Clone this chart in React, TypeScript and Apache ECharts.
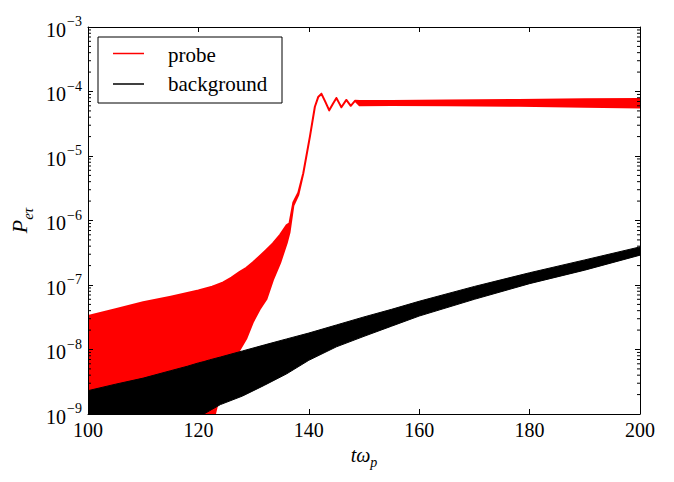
import React, { useEffect, useRef } from "react";
import * as echarts from "echarts";

// ---- axis definitions ----
const xMin = 100;
const xMax = 200;
const xInterval = 20;
const yMin = 1e-9;
const yMax = 1e-3;
const minorDecades = [-9, -8, -7, -6, -5, -4];
const minorMultipliers = [2, 3, 4, 5, 6, 7, 8, 9];

// ---- probe (red): envelope of the fast oscillation ----
const probeT = [
  100, 105, 110, 115, 120, 122.5, 123, 124.5, 126, 127.5, 128.7, 129.9, 131.1, 132.3, 133.5, 134.8,
  136.0, 136.5, 137.2, 138.1, 139.0, 140.2, 141.1, 141.7, 142.3, 143.0, 143.7, 144.4, 145.0, 145.5,
  145.9, 146.8, 147.6, 148.4, 149.2, 155, 165, 178, 190, 200,
];
const probeLow = [
  1e-10, 1e-10, 1e-10, 1e-10, 1e-10, 1e-10, 1e-9, 3.4e-9, 6e-9, 1.0e-8, 1.5e-8, 2.7e-8, 4.2e-8, 6.0e-8,
  1.2e-7, 2.2e-7, 4.5e-7, 6.5e-7, 1.7e-6, 2.5e-6, 5.4e-6, 2.0e-5, 5.8e-5, 8.2e-5, 9.2e-5, 6.9e-5,
  5.1e-5, 6.5e-5, 7.9e-5, 6.6e-5, 5.7e-5, 7.4e-5, 6.0e-5, 7.2e-5, 6.1e-5, 6.15e-5, 6.1e-5, 6.0e-5,
  5.8e-5, 5.65e-5,
];
const probeHigh = [
  3.3e-8, 4.2e-8, 5.4e-8, 6.6e-8, 8.2e-8, 9.4e-8, 9.8e-8, 1.1e-7, 1.3e-7, 1.6e-7, 1.85e-7, 2.25e-7,
  2.8e-7, 3.5e-7, 4.4e-7, 6.0e-7, 8.5e-7, 9.0e-7, 1.9e-6, 2.7e-6, 5.4e-6, 2.0e-5, 5.8e-5, 8.2e-5,
  9.2e-5, 6.9e-5, 5.1e-5, 6.5e-5, 7.9e-5, 6.6e-5, 5.7e-5, 7.4e-5, 6.0e-5, 7.2e-5, 7.1e-5, 7.1e-5,
  7.25e-5, 7.4e-5, 7.55e-5, 7.65e-5,
];

// ---- background (black): envelope of the fast oscillation ----
const bgT = [
  100, 105, 110, 115, 118, 120, 121, 122, 124, 128, 132, 136, 140, 145, 150, 155, 160, 170, 180, 190, 200,
];
const bgLow = [
  1e-10, 1e-10, 1.5e-10, 3e-10, 6e-10, 8.5e-10, 1e-9, 1.12e-9, 1.4e-9, 1.9e-9, 2.8e-9, 4.2e-9, 6.8e-9,
  1.1e-8, 1.6e-8, 2.3e-8, 3.3e-8, 6.0e-8, 1.05e-7, 1.7e-7, 2.9e-7,
];
const bgHigh = [
  2.3e-9, 2.9e-9, 3.6e-9, 4.7e-9, 5.5e-9, 6.2e-9, 6.5e-9, 6.9e-9, 7.65e-9, 9.5e-9, 1.18e-8, 1.46e-8,
  1.8e-8, 2.4e-8, 3.2e-8, 4.2e-8, 5.6e-8, 9.5e-8, 1.55e-7, 2.45e-7, 3.9e-7,
];

const FONT = "'Liberation Serif', 'DejaVu Serif', serif";

function bandSeries(name: string, t: number[], low: number[], high: number[], color: string, z: number, lw: number) {
  const data = t.map((x, i) => [x, low[i], high[i]]);
  return {
    type: "custom",
    name,
    data,
    z,
    clip: true,
    silent: true,
    encode: { x: 0, y: [1, 2] },
    itemStyle: { color },
    renderItem: (params: any, api: any) => {
      if (params.dataIndex !== 0) return null;
      const top = data.map((d) => api.coord([d[0], d[2]]));
      const bottom = data
        .slice()
        .reverse()
        .map((d) => api.coord([d[0], d[1]]));
      return {
        type: "polygon",
        shape: { points: top.concat(bottom) },
        style: { fill: color, stroke: color, lineWidth: lw, lineJoin: "round" },
      };
    },
  };
}

export default function App() {
  const ref = useRef<HTMLDivElement>(null);

  useEffect(() => {
    document.body.style.margin = "0";
    const chart = echarts.init(ref.current!, undefined, { renderer: "svg" });

    const minorTickValues: number[] = [];
    minorDecades.forEach((d) => minorMultipliers.forEach((m) => minorTickValues.push(m * Math.pow(10, d))));

    const yLabel = (v: number) => {
      const e = Math.round(Math.log10(v));
      return `{b|10}{s|${e < 0 ? "\u2212" : ""}${Math.abs(e)}}`;
    };

    const commonTick = { show: true, inside: true, length: 5, lineStyle: { color: "#000", width: 1 } };
    const commonLine = { show: true, lineStyle: { color: "#000", width: 1 } };

    chart.setOption({
      animation: false,
      backgroundColor: "#fff",
      grid: { left: 88, right: 34, top: 27, bottom: 68, containLabel: false },
      xAxis: [
        {
          type: "value",
          min: xMin,
          max: xMax,
          interval: xInterval,
          position: "bottom",
          z: 10,
          axisLine: commonLine,
          axisTick: commonTick,
          splitLine: { show: false },
          axisLabel: { color: "#000", fontFamily: FONT, fontSize: 20, margin: 6 },
          name: "{m|t\u03c9}{s|p}",
          nameLocation: "middle",
          nameGap: 20,
          nameTextStyle: {
            rich: {
              m: { fontFamily: FONT, fontSize: 20, fontStyle: "italic", color: "#000", verticalAlign: "bottom", padding: [0, 0, 5, 0] },
              s: { fontFamily: FONT, fontSize: 14, fontStyle: "italic", color: "#000", verticalAlign: "bottom" },
            },
          },
        },
        {
          type: "value",
          min: xMin,
          max: xMax,
          interval: xInterval,
          position: "top",
          z: 10,
          axisLine: commonLine,
          axisTick: commonTick,
          splitLine: { show: false },
          axisLabel: { show: false },
        },
      ],
      yAxis: [
        {
          type: "log",
          logBase: 10,
          min: yMin,
          max: yMax,
          position: "left",
          z: 10,
          axisLine: commonLine,
          axisTick: commonTick,
          splitLine: { show: false },
          minorTick: { show: false },
          axisLabel: {
            formatter: yLabel,
            margin: 6,
            showMinLabel: true,
            showMaxLabel: true,
            rich: {
              b: { fontFamily: FONT, fontSize: 20, color: "#000", verticalAlign: "bottom" },
              s: { fontFamily: FONT, fontSize: 14, color: "#000", verticalAlign: "bottom", padding: [0, 0, 11, 1] },
            },
          },
          name: "{m|P}{s|e\u03c4}",
          nameLocation: "middle",
          nameRotate: 90,
          nameGap: 53,
          nameTextStyle: {
            rich: {
              m: { fontFamily: FONT, fontSize: 22, fontStyle: "italic", color: "#000", verticalAlign: "bottom", padding: [0, 0, 5, 0] },
              s: { fontFamily: FONT, fontSize: 15, fontStyle: "italic", color: "#000", verticalAlign: "bottom" },
            },
          },
        },
        {
          type: "log",
          logBase: 10,
          min: yMin,
          max: yMax,
          position: "right",
          z: 10,
          axisLine: commonLine,
          axisTick: commonTick,
          splitLine: { show: false },
          axisLabel: { show: false },
        },
      ],
      series: [
        bandSeries("probe", probeT, probeLow, probeHigh, "#ff0000", 2, 2),
        bandSeries("background", bgT, bgLow, bgHigh, "#000000", 3, 1),
        {
          type: "custom",
          name: "minorTicks",
          data: minorTickValues.map((v) => [xMin, v]),
          z: 20,
          silent: true,
          clip: false,
          renderItem: (params: any, api: any) => {
            const cs = params.coordSys;
            const y = api.coord([xMin, api.value(1)])[1];
            return {
              type: "group",
              children: [
                { type: "line", shape: { x1: cs.x, y1: y, x2: cs.x + 3, y2: y }, style: { stroke: "#000", lineWidth: 1 } },
                {
                  type: "line",
                  shape: { x1: cs.x + cs.width - 3, y1: y, x2: cs.x + cs.width, y2: y },
                  style: { stroke: "#000", lineWidth: 1 },
                },
              ],
            };
          },
        },
      ],
      graphic: [
        {
          type: "group",
          z: 100,
          children: [
            {
              type: "rect",
              shape: { x: 98, y: 37, width: 184, height: 66 },
              style: { fill: "#fff", stroke: "#000", lineWidth: 1 },
            },
            { type: "line", shape: { x1: 113, y1: 53.5, x2: 144, y2: 53.5 }, style: { stroke: "#ff0000", lineWidth: 1.5 } },
            { type: "line", shape: { x1: 113, y1: 84, x2: 144, y2: 84 }, style: { stroke: "#000", lineWidth: 1.5 } },
            {
              type: "text",
              x: 168,
              y: 54.5,
              style: { text: "probe", fontFamily: FONT, fontSize: 21, fill: "#000", verticalAlign: "middle", align: "left" },
            },
            {
              type: "text",
              x: 168,
              y: 84,
              style: { text: "background", fontFamily: FONT, fontSize: 21, fill: "#000", verticalAlign: "middle", align: "left" },
            },
          ],
        },
      ],
    });

    return () => chart.dispose();
  }, []);

  return <div ref={ref} style={{ position: "absolute", left: 0, top: 0, width: 674, height: 482 }} />;
}
